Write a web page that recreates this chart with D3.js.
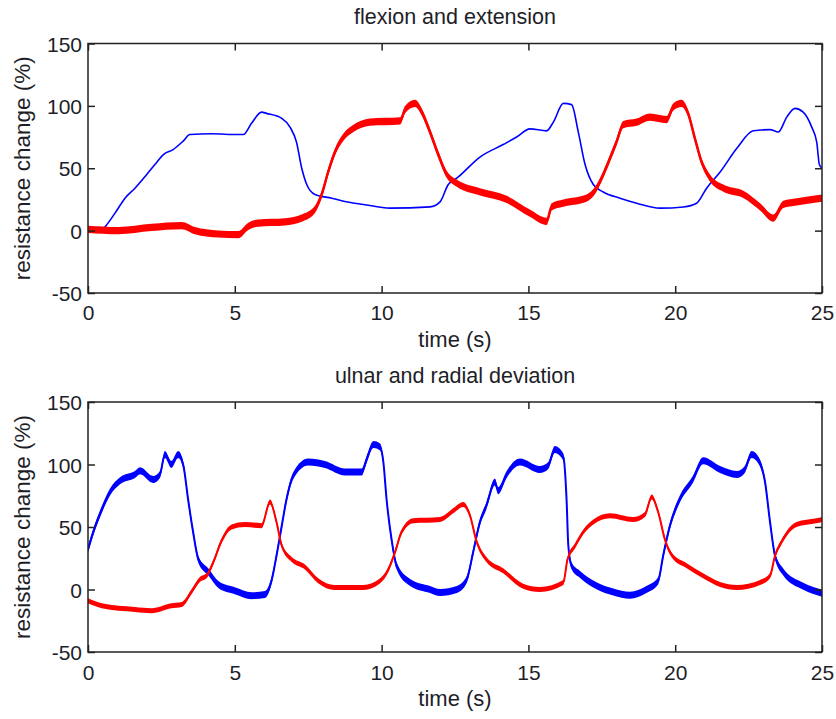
<!DOCTYPE html>
<html>
<head>
<meta charset="utf-8">
<script src="https://cdn.jsdelivr.net/npm/d3@7"></script>
<style>
  body { margin: 0; background: #fff; }
  svg { display: block; }
  text { font-family: "Liberation Sans", Arial, sans-serif; fill: #1e1e28; }
</style>
</head>
<body>
<div id="chart-container"></div>
<script>
// ---- data: [time (s), resistance change (%)] ----
const xTicks = [0, 5, 10, 15, 20, 25];
const yTicks = [-50, 0, 50, 100, 150];
const titles = ["flexion and extension", "ulnar and radial deviation"];

// flexion / extension
const flexBlue = [
  [0,1],[0.5,1],[0.58,3],[0.92,14],[1.26,26],[1.6,34],[2.0,45],[2.28,53],[2.57,61],[2.9,65],
  [3.25,72],[3.47,77],[4.2,77.6],[5.12,77],[5.29,77],[5.57,86],[5.91,95],[6.08,94],[6.6,90],
  [6.88,83],[7.1,71],[7.28,50],[7.45,37],[7.73,29],[8.3,26],[8.75,23.4],[9.38,21],[10.29,18],
  [11.65,19],[11.99,23],[12.27,37],[12.56,42],[13.35,59],[14.14,69],[14.6,75],[15.05,81.6],
  [15.62,80],[15.85,87],[16.19,102],[16.47,101],[16.7,79],[16.93,53],[17.21,37],[17.55,31],
  [18.12,26],[18.69,22],[19.48,18],[20.28,19],[20.73,22],[21.07,34],[21.53,47],[22.1,66],
  [22.66,80],[23.23,81],[23.51,79],[23.8,91],[24.08,98],[24.36,95],[24.65,83],[24.82,71],
  [24.91,53],[25,50]
];
const flexRed = [
  [0,1],[1.03,0],[2.17,2.6],[3.19,4],[3.64,0],[4.44,-2.7],[5.12,-3.2],[5.46,3.4],[5.8,6],
  [6.71,7],[7.28,10],[7.73,17],[7.96,29],[8.18,47],[8.41,63],[8.7,75],[9.04,82],[9.6,87],
  [10.63,88],[10.8,97],[11.14,102],[11.37,95],[11.65,79],[11.93,61],[12.22,45],[12.56,38],
  [13.35,31],[14.26,25],[15.05,14],[15.62,7.4],[15.79,19],[16.19,22],[16.98,26],[17.32,34],
  [17.55,45],[17.78,58],[18.0,71],[18.23,85],[18.69,87],[19.14,91],[19.71,89],[19.93,99],
  [20.22,102],[20.44,94],[20.67,74],[20.9,55],[21.19,42],[21.64,34],[22.32,29],[22.89,19],
  [23.34,10],[23.68,21],[24.14,23],[25,26]
];

// ulnar / radial deviation
const devBlue = [
  [0,32],[0.18,46],[0.47,64],[0.75,78],[1.09,87],[1.6,92],[1.77,95],[2.22,88],[2.45,92],
  [2.62,108],[2.84,100],[3.07,108],[3.25,99],[3.41,72],[3.58,46],[3.76,24],[4.1,14],[4.44,4],
  [5.0,-1],[5.58,-5],[6.03,-4],[6.25,7],[6.42,27],[6.6,51],[6.76,72],[6.99,91],[7.5,102],
  [8.07,100],[8.75,94],[9.32,94],[9.49,104],[9.72,116],[9.95,114],[10.06,102],[10.17,72],
  [10.34,40],[10.51,19],[10.97,5.6],[11.65,0],[11.99,-2.4],[12.56,0],[12.9,8],[13.12,30],
  [13.35,54],[13.57,67],[13.86,86],[13.97,79],[14.26,92],[14.71,102],[15.39,96],[15.67,99],
  [15.9,112],[16.19,106],[16.3,72],[16.36,35],[16.47,19],[16.76,12],[17.32,3],[17.89,-2],
  [18.46,-4.6],[19.02,0],[19.42,7],[19.59,27],[19.82,51],[20.15,72],[20.6,88],[20.95,103],
  [21.53,96],[22.1,92],[22.37,96],[22.6,108],[22.82,104],[23.06,86],[23.23,54],[23.4,27],
  [23.68,14],[24.36,2.6],[25,-3]
];
const devRed = [
  [0,-9],[0.47,-13],[1.6,-16],[2.17,-17],[2.84,-13],[3.19,-12],[3.52,-2],[3.81,8],[4.04,11],
  [4.27,22],[4.55,39],[4.89,50],[5.34,52],[5.91,51],[6.2,70],[6.42,54],[6.6,35],[6.94,24],
  [7.39,18],[7.84,7],[8.4,1.6],[9.38,1.6],[9.95,7],[10.23,16],[10.46,30],[10.68,46],[11.08,55],
  [11.99,56],[12.44,63],[12.78,68],[13.0,60],[13.24,38],[13.57,24],[14.14,15],[14.82,2.6],
  [15.39,0],[16.19,5.6],[16.33,24],[16.59,35],[16.87,46],[17.21,54],[17.78,59],[18.57,56],
  [18.97,60],[19.2,74],[19.42,62],[19.65,40],[19.87,28],[20.39,19],[20.95,11],[21.53,4],
  [22.1,1.6],[22.89,5.6],[23.23,11],[23.4,27],[23.62,38],[24.13,52],[24.81,55],[25,56]
];

/**************************************************
 * Layout
 **************************************************/
const width = 836, height = 719;
const left = 88, right = 822;

// each panel: vertical position plus how thick each noisy trace looks
const panels = [
  { title: titles[0], top: 43.5, bottom: 293, titleY: 24, tickY: 27, labelY: 347,
    traces: [ { data: flexBlue, color: "#0000ff", band: 0,   line: 1.6 },
              { data: flexRed,  color: "#ff0000", band: 3.6, line: 2.5 } ] },
  { title: titles[1], top: 402, bottom: 652, titleY: 383, tickY: 28, labelY: 706,
    traces: [ { data: devBlue, color: "#0000ff", band: 3.4, line: 2 },
              { data: devRed,  color: "#ff0000", band: 2.6, line: 2 } ] }
];

const svg = d3.select("#chart-container")
  .append("svg")
  .attr("width", width)
  .attr("height", height);

const x = d3.scaleLinear().domain([0, 25]).range([left, right]);
const plainNum = d => String(d);   // hyphen minus like the original, not U+2212

panels.forEach((p, pi) => {
  const y = d3.scaleLinear().domain([-50, 150]).range([p.bottom, p.top]);
  const g = svg.append("g");

  g.append("clipPath").attr("id", "clip" + pi)
    .append("rect")
    .attr("x", left).attr("y", p.top)
    .attr("width", right - left).attr("height", p.bottom - p.top);

  const plot = g.append("g").attr("clip-path", `url(#clip${pi})`);

  p.traces.forEach(tr => {
    // band gives the vertical noise thickness, line keeps steep parts visible
    if (tr.band > 0) {
      const area = d3.area()
        .x(d => x(d[0]))
        .y0(d => y(d[1]) + tr.band)
        .y1(d => y(d[1]) - tr.band)
        .curve(d3.curveMonotoneX);
      plot.append("path")
        .datum(tr.data)
        .attr("d", area)
        .attr("fill", tr.color);
    }
    const line = d3.line()
      .x(d => x(d[0]))
      .y(d => y(d[1]))
      .curve(d3.curveMonotoneX);
    plot.append("path")
      .datum(tr.data)
      .attr("d", line)
      .attr("fill", "none")
      .attr("stroke", tr.color)
      .attr("stroke-width", tr.line)
      .attr("stroke-linejoin", "round");
  });

  // axes: ticks point inward on all four sides
  const bottomAxis = g.append("g")
    .attr("transform", `translate(0,${p.bottom})`)
    .call(d3.axisBottom(x).tickValues(xTicks).tickSize(-7).tickFormat(plainNum));
  bottomAxis.selectAll("text").attr("y", p.tickY).attr("dy", null);

  g.append("g")
    .attr("transform", `translate(0,${p.top})`)
    .call(d3.axisTop(x).tickValues(xTicks).tickSize(-7).tickFormat(""));

  const leftAxis = g.append("g")
    .attr("transform", `translate(${left},0)`)
    .call(d3.axisLeft(y).tickValues(yTicks).tickSize(-7).tickPadding(6).tickFormat(plainNum));
  leftAxis.selectAll("text").attr("dy", "0.36em");

  g.append("g")
    .attr("transform", `translate(${right},0)`)
    .call(d3.axisRight(y).tickValues(yTicks).tickSize(-7).tickFormat(""));

  g.selectAll(".domain").remove();
  g.selectAll(".tick line").attr("stroke", "#222").attr("stroke-width", 1.5);
  g.selectAll(".tick text")
    .attr("font-size", "21px")
    .attr("font-family", "'Liberation Sans', Arial, sans-serif")
    .attr("fill", "#1e1e28");

  g.append("rect")
    .attr("x", left).attr("y", p.top)
    .attr("width", right - left).attr("height", p.bottom - p.top)
    .attr("fill", "none")
    .attr("stroke", "#222")
    .attr("stroke-width", 1.5);

  g.append("text")
    .attr("x", (left + right) / 2)
    .attr("y", p.titleY)
    .attr("text-anchor", "middle")
    .attr("font-size", "21.5px")
    .text(p.title);

  g.append("text")
    .attr("x", (left + right) / 2)
    .attr("y", p.labelY)
    .attr("text-anchor", "middle")
    .attr("font-size", "22px")
    .text("time (s)");

  g.append("text")
    .attr("transform", `translate(30,${(p.top + p.bottom) / 2}) rotate(-90)`)
    .attr("text-anchor", "middle")
    .attr("font-size", "22.5px")
    .text("resistance change (%)");
});
</script>
</body>
</html>
